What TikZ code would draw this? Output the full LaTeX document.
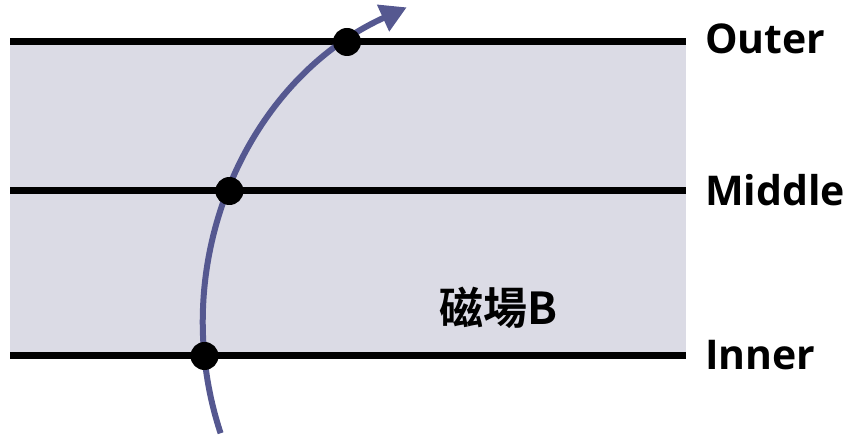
\documentclass[tikz,border=0pt]{standalone}
\usepackage{fontspec}
\setmainfont{Open Sans}
\newfontfamily\cjk{Noto Sans CJK TC}[BoldFont={Noto Sans CJK TC Bold}]
\usetikzlibrary{arrows.meta,calc}
\definecolor{bandfill}{HTML}{DBDBE5}
\definecolor{track}{HTML}{555890}
\tikzset{
  layer/.style={line width=7pt, black},
  lbl/.style={anchor=west, font=\fontsize{41}{41}\selectfont\bfseries, inner sep=0pt},
  hit/.style={circle, fill=black, minimum size=28pt, inner sep=0pt},
}
\begin{document}
\begin{tikzpicture}[x=1pt,y=1pt]
\useasboundingbox (0,0) rectangle (854,436);
\fill[bandfill] (10,79) rectangle (686,394);
% layers
\coordinate (oL) at (10,394); \coordinate (oR) at (686,394);
\coordinate (mL) at (10,245); \coordinate (mR) at (686,245);
\coordinate (iL) at (10,80);  \coordinate (iR) at (686,80);
\draw[layer] (oL) -- (oR);
\draw[layer] (mL) -- (mR);
\draw[layer] (iL) -- (iR);
\node[lbl] (outer) at (705,397) {Outer};
\node[lbl] (middle) at (705,246) {Middle};
\node[lbl] (inner) at (705,81) {Inner};
\node[font=\fontsize{44}{44}\selectfont\bfseries\cjk, inner sep=0pt] (field) at (498,128) {磁場B};
% track: arc of a circle centred at (551,112), radius 348
\coordinate (c) at (551,112);
\coordinate (start) at ($(c)+(198.3:348)$);
\draw[track, line width=6pt, -{Triangle[length=26pt,width=28pt]}]
  (start) arc[start angle=198.3, end angle=114.5, radius=348];
\node[hit] (h1) at (204.5,80) {};
\node[hit] (h2) at (229.4,245) {};
\node[hit] (h3) at (347,394) {};
\end{tikzpicture}
\end{document}
